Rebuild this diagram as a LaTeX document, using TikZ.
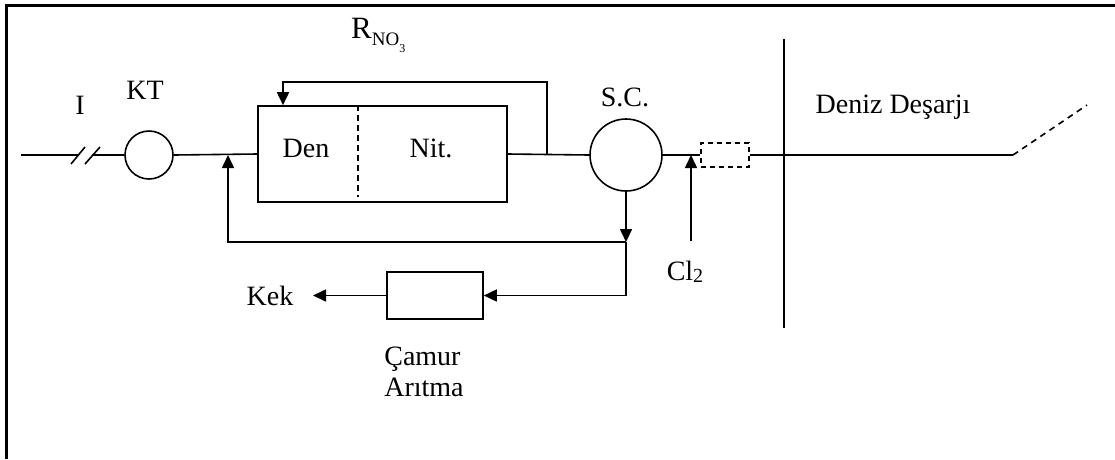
\documentclass[tikz,border=0pt]{standalone}
\usepackage{fontspec}
\setmainfont{Liberation Serif}
\usetikzlibrary{arrows.meta}
\begin{document}
\begin{tikzpicture}[x=1pt,y=-1pt,
  line/.style={line width=1.6pt},
  arr/.style={line width=1.6pt,-{Triangle[length=13pt,width=12pt]}},
  lbl/.style={font=\fontsize{28}{31}\selectfont,inner sep=0pt},
  unit/.style={draw,line width=1.6pt,inner sep=0pt},
  every node/.style={inner sep=0pt}]
\useasboundingbox (0,0) rectangle (1115,459);
% frame
\draw[line width=3pt] (6,459) -- (6,5) -- (1115,5);
% units
\node[unit,circle,minimum size=48pt] (kt) at (149,155) {};
\node[unit,rectangle,minimum width=249pt,minimum height=96pt] (reac) at (382.5,154) {};
\node[unit,circle,minimum size=72pt] (sc) at (626,155) {};
\node[unit,rectangle,dashed,dash pattern=on 5pt off 4pt,minimum width=48pt,minimum height=24pt] (filt) at (725,155) {};
\node[unit,rectangle,minimum width=96pt,minimum height=47pt] (sludge) at (435,295.5) {};
\coordinate (seatop) at (784,39);
\coordinate (seabot) at (784,328);
\draw[line] (seatop) -- (seabot);
% coordinates
\coordinate (in) at (21,155);
\coordinate (s1) at (79,155);
\coordinate (s2) at (92,155);
\coordinate (j0) at (228,155);
\coordinate (j1) at (547,155);
\coordinate (j2) at (626,242);
\coordinate (j3) at (691,155);
\coordinate (clb) at (691,241);
\coordinate (outend) at (1013,155);
\coordinate (outdash) at (1087,105);
\coordinate (kekend) at (313,295.5);
% main line
\draw[line] (in) -- (s1);
\draw[line] (s2) -- (kt.west);
\draw[line] (71,164) -- (85,147);
\draw[line] (85,164) -- (100,147);
\draw[line] (kt.east) -- (reac.west);
\draw[line] (reac.east) -- (sc.west);
\draw[line] (sc.east) -- (filt.west);
\draw[line] (filt.east) -- (outend);
\draw[line,dashed,dash pattern=on 6pt off 5pt] (outend) -- (outdash);
% divider
\draw[line width=1.1pt,dash pattern=on 6pt off 4pt] (reac.north -| 358,0) -- (358,197);
% internal recycle
\draw[arr] (j1) -- (547,82) -- (283,82) -- (reac.north -| 283,0);
% return sludge
\draw[arr] (sc.south) -- (j2);
\draw[arr] (j2) -| (j0);
\draw[arr] (j2) |- (sludge.east);
\draw[arr] (sludge.west) -- (kekend);
% chlorine
\draw[arr] (clb) -- (j3);
% labels
\node[lbl] (lI) at (80,105) {I};
\node[lbl] (lKT) at (145,90) {KT};
\node[lbl] (lDen) at (306,148) {Den};
\node[lbl] (lNit) at (431,148) {Nit.};
\node[lbl] (lSC) at (625,97) {S.C.};
\node[lbl,anchor=west,font=\fontsize{31}{31}\selectfont] (lR) at (351,35) {R\raisebox{-7pt}{\fontsize{19}{19}\selectfont NO}\raisebox{-14pt}{\fontsize{12}{12}\selectfont 3}};
\node[lbl] (lCl) at (685,272) {Cl\raisebox{-2pt}{\fontsize{20}{20}\selectfont 2}};
\node[lbl] (lDD) at (893,107) {Deniz Deşarjı};
\node[lbl] (lKek) at (270,296) {Kek};
\node[lbl,align=left] (lCam) at (424,372) {Çamur\\Arıtma};
\end{tikzpicture}
\end{document}
